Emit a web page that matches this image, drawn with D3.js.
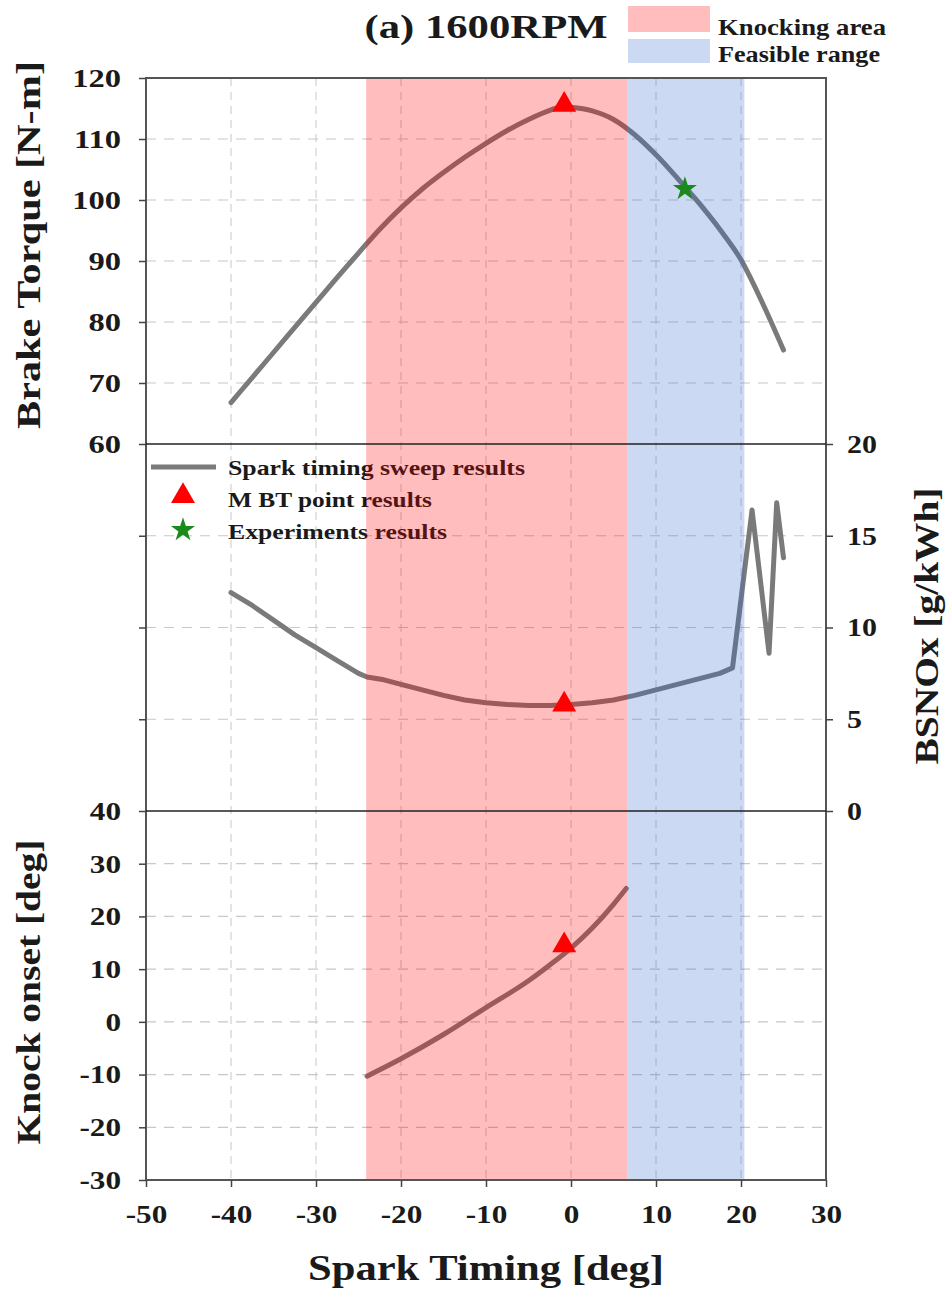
<!DOCTYPE html>
<html><head><meta charset="utf-8">
<script src="https://cdn.jsdelivr.net/npm/d3@7/dist/d3.min.js"></script>
<style>body{margin:0;background:#fff;} text{font-family:"Liberation Serif","Times New Roman",serif;font-weight:bold;}</style>
</head><body>
<svg id="c" width="952" height="1300"></svg>
<script>
const xTicks = [-50,-40,-30,-20,-10,0,10,20,30];
const torqueTicks = [60,70,80,90,100,110,120];
const noxTicks = [0,5,10,15,20];
const knockTicks = [-30,-20,-10,0,10,20,30,40];

const torqueX = [-40,-37.5,-35,-32.5,-30,-27.5,-25,-22.5,-20,-17.5,-15,-12.5,-10,-7.5,-5,-2.5,-1,0,2.5,5,7.5,10,12.5,15,17.5,20,22.5,25];
const torqueY = [66.8,70.9,75.0,79.1,83.2,87.3,91.3,95.2,98.7,101.8,104.5,107.0,109.3,111.4,113.2,114.7,115.3,115.2,114.6,113.2,110.7,107.4,103.6,99.6,95.2,90.2,83.2,75.4];

const noxX = [-40,-37.5,-35,-32.5,-30,-27.5,-25,-24,-22,-20,-17.5,-15,-12.5,-10,-7.5,-5,-2.5,0,2.5,5,7.5,10,12.5,15,17.5,19,21.3,23.3,24.2,25];
const noxY = [11.9,11.2,10.4,9.6,8.9,8.2,7.5,7.3,7.15,6.9,6.6,6.3,6.05,5.9,5.8,5.75,5.75,5.8,5.9,6.05,6.3,6.6,6.9,7.2,7.5,7.8,16.4,8.6,16.8,13.8];

const knockX = [-24,-20,-15,-10,-5,-2.5,0,2.5,5,6.5];
const knockY = [-10.3,-7.0,-2.4,2.7,7.8,10.8,14.0,17.8,22.3,25.3];

const mbtX = -0.8, mbtTorque = 115.6, mbtNox = 5.8, mbtKnock = 14.5;
const expX = 13.4, expTorque = 101.8;
const knockArea = [-24.1, 6.6];
const feasibleRange = [6.6, 20.4];

const svg = d3.select("#c");
const L=146, R=826, T=78, M1=444, M2=811, B=1180;
const x = d3.scaleLinear([-50,30],[L,R]);
const yT = d3.scaleLinear([60,120],[M1,T]);
const yN = d3.scaleLinear([0,20],[M2,M1]);
const yK = d3.scaleLinear([-30,40],[B,M2]);
const ink = "#1a1a1a";

function stretch(sel, factor){
  sel.each(function(){
    const w = this.getComputedTextLength();
    d3.select(this).attr("textLength", w*factor).attr("lengthAdjust","spacingAndGlyphs");
  });
}
function label(str, xx, yy, fs, width, anchor, rot){
  const t = svg.append("text").attr("font-size",fs).attr("fill",ink).attr("text-anchor",anchor||"start").text(str);
  if (rot) t.attr("transform",`translate(${xx},${yy}) rotate(${rot})`);
  else t.attr("x",xx).attr("y",yy);
  if (width) t.attr("textLength",width).attr("lengthAdjust","spacingAndGlyphs");
  return t;
}

const gridC = "#c8c8c8";
const g = svg.append("g");
xTicks.filter(v=>v>-50&&v<30).forEach(v=>{
  g.append("line").attr("x1",x(v)).attr("x2",x(v)).attr("y1",T).attr("y2",B)
   .attr("stroke",gridC).attr("stroke-width",1).attr("stroke-dasharray","8,6");
});
function hgrid(scale, ticks){
  ticks.forEach(v=>{
    const yy=scale(v);
    if (Math.abs(yy-T)<1||Math.abs(yy-M1)<1||Math.abs(yy-M2)<1||Math.abs(yy-B)<1) return;
    g.append("line").attr("x1",L).attr("x2",R).attr("y1",yy).attr("y2",yy)
     .attr("stroke",gridC).attr("stroke-width",1.2).attr("stroke-dasharray","10,8");
  });
}
hgrid(yT,torqueTicks); hgrid(yN,noxTicks); hgrid(yK,knockTicks);

const lineC = "#7a7a7a";
function drawLine(xs, ys, scale, curve){
  svg.append("path").datum(xs.map((v,i)=>[v,ys[i]]))
    .attr("d", d3.line().x(d=>x(d[0])).y(d=>scale(d[1])).curve(curve))
    .attr("fill","none").attr("stroke",lineC).attr("stroke-width",5).attr("stroke-linejoin","round").attr("stroke-linecap","round");
}
drawLine(torqueX,torqueY,yT,d3.curveMonotoneX);
drawLine(noxX,noxY,yN,d3.curveLinear);
drawLine(knockX,knockY,yK,d3.curveMonotoneX);

// legend (middle)
svg.append("line").attr("x1",151).attr("x2",216).attr("y1",467).attr("y2",467).attr("stroke",lineC).attr("stroke-width",5);
label("Spark timing sweep results",228,475,21,297);
label("M BT  point results",228,507,21,204);
label("Experiments results",228,539,21,219);

// shaded areas
svg.append("rect").attr("x",x(knockArea[0])).attr("width",x(knockArea[1])-x(knockArea[0]))
  .attr("y",T).attr("height",B-T).attr("fill","#ff0000").attr("fill-opacity",0.26);
svg.append("rect").attr("x",x(feasibleRange[0])).attr("width",x(feasibleRange[1])-x(feasibleRange[0]))
  .attr("y",T).attr("height",B-T).attr("fill","#3366cc").attr("fill-opacity",0.25);

// markers
const tri = d3.symbol().type(d3.symbolTriangle).size(250);
const star = d3.symbol().type(d3.symbolStar).size(180);
function triAt(cx,cy){ svg.append("path").attr("d",tri()).attr("transform",`translate(${cx},${cy})`).attr("fill","#ff0000"); }
triAt(x(mbtX), yT(mbtTorque));
triAt(x(mbtX), yN(mbtNox));
triAt(x(mbtX), yK(mbtKnock));
svg.append("path").attr("d",star()).attr("transform",`translate(${x(expX)},${yT(expTorque)})`).attr("fill","#1a8a1a");
triAt(183, 496);
svg.append("path").attr("d",star()).attr("transform",`translate(183,530)`).attr("fill","#1a8a1a");

// frame & separators
svg.append("rect").attr("x",L).attr("y",T).attr("width",R-L).attr("height",B-T).attr("fill","none").attr("stroke","#555").attr("stroke-width",2);
[M1,M2].forEach(yy=>svg.append("line").attr("x1",L).attr("x2",R).attr("y1",yy).attr("y2",yy).attr("stroke","#222").attr("stroke-width",1.5));

// axes
const fmt = d => String(d);
function styleAxis(sel, fs, f){
  sel.select(".domain").remove();
  sel.selectAll(".tick line").attr("stroke","#444").attr("stroke-width",1.5);
  const t = sel.selectAll(".tick text").attr("font-size",fs).attr("fill",ink).attr("font-family","Liberation Serif").attr("font-weight","bold");
  stretch(t, f);
}
const aT = svg.append("g").attr("transform",`translate(${L},0)`).call(d3.axisLeft(yT).tickValues(torqueTicks).tickSize(7).tickPadding(18).tickFormat(fmt));
styleAxis(aT,26,1.25);
const aNL = svg.append("g").attr("transform",`translate(${L},0)`).call(d3.axisLeft(yN).tickValues([5,10,15]).tickSize(7).tickFormat(""));
aNL.select(".domain").remove(); aNL.selectAll(".tick line").attr("stroke","#444").attr("stroke-width",1.5);
const aNR = svg.append("g").attr("transform",`translate(${R},0)`).call(d3.axisRight(yN).tickValues(noxTicks).tickSize(7).tickPadding(14).tickFormat(fmt));
styleAxis(aNR,26,1.15);
const aK = svg.append("g").attr("transform",`translate(${L},0)`).call(d3.axisLeft(yK).tickValues(knockTicks).tickSize(7).tickPadding(18).tickFormat(fmt));
styleAxis(aK,26,1.2);
const aX = svg.append("g").attr("transform",`translate(0,${B})`).call(d3.axisBottom(x).tickValues(xTicks).tickSize(7).tickPadding(18).tickFormat(fmt));
styleAxis(aX,26,1.2);

// titles
label("(a) 1600RPM",486,38,33,243,"middle");
svg.append("rect").attr("x",628).attr("y",6).attr("width",82).attr("height",26).attr("fill","#ff0000").attr("fill-opacity",0.26);
svg.append("rect").attr("x",628).attr("y",39).attr("width",82).attr("height",24).attr("fill","#3366cc").attr("fill-opacity",0.25);
label("Knocking area",718,35,23,168);
label("Feasible range",718,62,23,162);

label("Brake Torque [N-m]",40,245,34,368,"middle",-90);
label("Knock onset [deg]",40,992,34,305,"middle",-90);
label("BSNOx [g/kWh]",938,626,34,277,"middle",-90);
label("Spark Timing [deg]",486,1280,36,356,"middle");
</script>
</body></html>
